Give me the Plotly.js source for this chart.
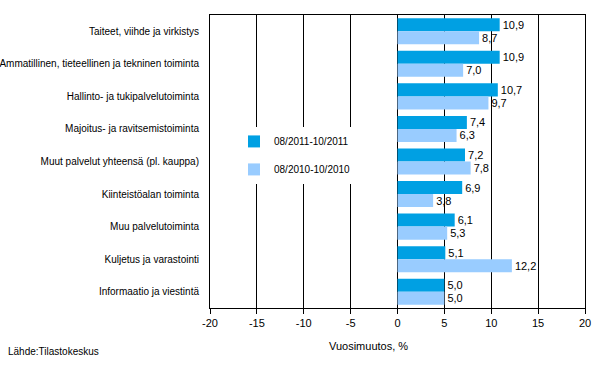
<!DOCTYPE html>
<html><head><meta charset="utf-8">
<script src="https://cdn.plot.ly/plotly-3.0.1.min.js"></script>
<style>body{margin:0;padding:0;background:#fff}#chart{width:600px;height:373px}</style>
</head><body><div id="chart"></div>
<script>
const categories = [
  "Taiteet, viihde ja virkistys",
  "Ammatillinen, tieteellinen ja tekninen toiminta",
  "Hallinto- ja tukipalvelutoiminta",
  "Majoitus- ja ravitsemistoiminta",
  "Muut palvelut yhteensä (pl. kauppa)",
  "Kiinteistöalan toiminta",
  "Muu palvelutoiminta",
  "Kuljetus ja varastointi",
  "Informaatio ja viestintä"
];
const series2011 = [10.9, 10.9, 10.7, 7.4, 7.2, 6.9, 6.1, 5.1, 5.0];
const series2010 = [8.7, 7.0, 9.7, 6.3, 7.8, 3.8, 5.3, 12.2, 5.0];
const seriesNames = ["08/2011-10/2011", "08/2010-10/2010"];
const xTicks = [-20, -15, -10, -5, 0, 5, 10, 15, 20];

const font = "Liberation Sans, Arial, sans-serif";
const traces = [
  {type:'bar', orientation:'h', name:seriesNames[0], y:categories, x:series2011,
   marker:{color:'#00A0E3'}, text:series2011.map(v=>v.toFixed(1).replace('.',',')),
   textposition:'outside', cliponaxis:false, textfont:{size:11,color:'#000',family:font},
   legendgroup:'a', hoverinfo:'x'},
  {type:'bar', orientation:'h', name:seriesNames[1], y:categories, x:series2010,
   marker:{color:'#99CCFF'}, text:series2010.map(v=>v.toFixed(1).replace('.',',')),
   textposition:'outside', cliponaxis:false, textfont:{size:11,color:'#000',family:font},
   legendgroup:'b', hoverinfo:'x'}
];
const layout = {
  width:600, height:373,
  margin:{l:210, r:15, t:15, b:65},
  paper_bgcolor:'#fff', plot_bgcolor:'#fff',
  font:{family:font, size:10, color:'#000'},
  separators:',.',
  barmode:'group', bargap:0.2, bargroupgap:0,
  showlegend:true,
  legend:{x:(234-210)/375, y:0.618, xanchor:'left', yanchor:'top', bgcolor:'#fff',
          font:{size:10, family:font}, tracegroupgap:9, itemwidth:30},
  xaxis:{range:[-20,20], tickvals:xTicks, ticktext:xTicks.map(String),
         showgrid:true, gridcolor:'#000', gridwidth:1, zeroline:true, zerolinecolor:'#000',
         showline:true, linecolor:'#000', mirror:true, linewidth:1,
         ticks:'outside', ticklen:5, tickcolor:'#000', tickfont:{size:11, family:font},
         fixedrange:true},
  yaxis:{autorange:'reversed', showgrid:false, zeroline:false, showline:true, linecolor:'#000',
         mirror:true, ticks:'', ticklabelstandoff:8, tickfont:{size:10, family:font}, fixedrange:true},
  annotations:[
    {text:'Vuosimuutos, %', xref:'paper', yref:'paper', x:(368-210)/375, y:-0.102, xanchor:'center', yanchor:'top',
     showarrow:false, font:{size:11, family:font}},
    {text:'Lähde:Tilastokeskus', xref:'paper', yref:'paper', x:-0.543, y:-0.123, xanchor:'left', yanchor:'top',
     showarrow:false, font:{size:10, family:font}}
  ]
};
Plotly.newPlot('chart', traces, layout, {displayModeBar:false, staticPlot:true});
</script></body></html>
